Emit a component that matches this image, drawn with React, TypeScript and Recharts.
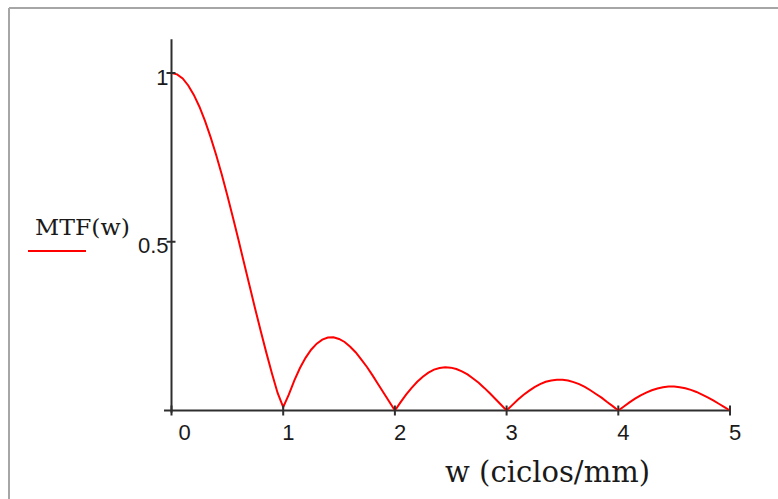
import React from 'react';
import { LineChart, Line, XAxis, YAxis, ReferenceLine, Customized } from 'recharts';

const wValues = [
  0, 0.05, 0.1, 0.15, 0.2, 0.25, 0.3, 0.35, 0.4, 0.45,
  0.5, 0.55, 0.6, 0.65, 0.7, 0.75, 0.8, 0.85, 0.9, 0.95,
  1, 1.05, 1.1, 1.15, 1.2, 1.25, 1.3, 1.35, 1.4, 1.45,
  1.5, 1.55, 1.6, 1.65, 1.7, 1.75, 1.8, 1.85, 1.9, 1.95,
  2, 2.05, 2.1, 2.15, 2.2, 2.25, 2.3, 2.35, 2.4, 2.45,
  2.5, 2.55, 2.6, 2.65, 2.7, 2.75, 2.8, 2.85, 2.9, 2.95,
  3, 3.05, 3.1, 3.15, 3.2, 3.25, 3.3, 3.35, 3.4, 3.45,
  3.5, 3.55, 3.6, 3.65, 3.7, 3.75, 3.8, 3.85, 3.9, 3.95,
  4, 4.05, 4.1, 4.15, 4.2, 4.25, 4.3, 4.35, 4.4, 4.45,
  4.5, 4.55, 4.6, 4.65, 4.7, 4.75, 4.8, 4.85, 4.9, 4.95,
  5,
];

const mtfValues = [
  1.0, 0.996, 0.984, 0.963, 0.935, 0.9, 0.858, 0.81, 0.757, 0.699,
  0.637, 0.572, 0.505, 0.436, 0.368, 0.3, 0.234, 0.17, 0.109, 0.052,
  0.01, 0.047, 0.089, 0.126, 0.156, 0.18, 0.198, 0.21, 0.216, 0.217,
  0.212, 0.203, 0.189, 0.172, 0.151, 0.129, 0.104, 0.078, 0.052, 0.026,
  0.0, 0.024, 0.047, 0.067, 0.085, 0.1, 0.112, 0.121, 0.126, 0.128,
  0.127, 0.123, 0.116, 0.107, 0.095, 0.082, 0.067, 0.051, 0.034, 0.017,
  0.0, 0.016, 0.032, 0.046, 0.058, 0.069, 0.078, 0.085, 0.089, 0.091,
  0.091, 0.089, 0.084, 0.078, 0.07, 0.06, 0.049, 0.038, 0.025, 0.013,
  0.0, 0.012, 0.024, 0.035, 0.045, 0.053, 0.06, 0.065, 0.069, 0.071,
  0.071, 0.069, 0.066, 0.061, 0.055, 0.047, 0.039, 0.03, 0.02, 0.01,
  0.0,
];

const xTicks = [0, 1, 2, 3, 4, 5];
const yTicks = [0.5, 1];
const seriesName = 'MTF(w)';
const xTitle = 'w (ciclos/mm)';

const data = wValues.map((w, i) => ({ w, mtf: mtfValues[i] }));

const AXIS = '#2e2e2e';
const RED = '#ff0000';

const renderXTick = (props: any) => {
  const { x, y, payload } = props;
  const v = payload.value;
  const tx = v === 0 ? x + 7 : x - 1;
  return (
    <g key={`xt-${v}`}>
      <line x1={x} x2={x} y1={y - 5} y2={y + 5} stroke={AXIS} strokeWidth={2} />
      <text x={tx} y={y + 29.5} textAnchor="start" fontFamily="Liberation Sans" fontSize={22} fill="#1a1a1a">
        {v}
      </text>
    </g>
  );
};

const renderYTick = (props: any) => {
  const { x, y, payload } = props;
  const v = payload.value;
  return (
    <g key={`yt-${v}`}>
      <line x1={x - 5} x2={x + 4} y1={y} y2={y} stroke={AXIS} strokeWidth={2} />
      <text x={x - 3} y={y + 11.5} textAnchor="end" fontFamily="Liberation Sans" fontSize={22} fill="#1a1a1a">
        {v}
      </text>
    </g>
  );
};

const Decorations = () => (
  <g>
    <line x1={9} x2={9} y1={8} y2={499} stroke="#a6a6a6" strokeWidth={2} />
    <line x1={9} x2={778} y1={8} y2={8} stroke="#a6a6a6" strokeWidth={2} />
    <text x={35} y={235} fontFamily="DejaVu Serif" fontSize={23} fill="#1a1a1a" textLength={95} lengthAdjust="spacingAndGlyphs">
      {seriesName}
    </text>
    <line x1={28} x2={86} y1={251} y2={251} stroke={RED} strokeWidth={2} />
    <text x={445} y={482} fontFamily="DejaVu Serif" fontSize={29} fill="#1a1a1a" textLength={205} lengthAdjust="spacingAndGlyphs">
      {xTitle}
    </text>
  </g>
);

export default function App() {
  return (
    <div style={{ position: 'absolute', left: 0, top: 0, width: 778, height: 499, background: '#fff' }}>
      <LineChart
        width={778}
        height={499}
        data={data}
        margin={{ top: 39.25, right: 48, left: 170.5, bottom: 87.5 }}
      >
        <XAxis
          dataKey="w"
          type="number"
          domain={[0, 5]}
          ticks={xTicks}
          height={1}
          axisLine={false}
          tickLine={false}
          tickSize={0}
          tickMargin={0}
          tick={renderXTick}
          interval={0}
        />
        <YAxis
          type="number"
          domain={[0, 1.1]}
          ticks={yTicks}
          width={1}
          axisLine={false}
          tickLine={false}
          tickSize={0}
          tickMargin={0}
          tick={renderYTick}
          interval={0}
          allowDataOverflow
        />
        <ReferenceLine
          segment={[{ x: -0.067, y: 0 }, { x: 5, y: 0 }]}
          stroke={AXIS}
          strokeWidth={2}
          ifOverflow="visible"
        />
        <ReferenceLine
          segment={[{ x: 0, y: -0.007 }, { x: 0, y: 1.1 }]}
          stroke={AXIS}
          strokeWidth={2}
          ifOverflow="visible"
        />
        <Line
          type="linear"
          dataKey="mtf"
          name={seriesName}
          stroke={RED}
          strokeWidth={2}
          dot={false}
          isAnimationActive={false}
        />
        <Customized component={Decorations} />
      </LineChart>
    </div>
  );
}
